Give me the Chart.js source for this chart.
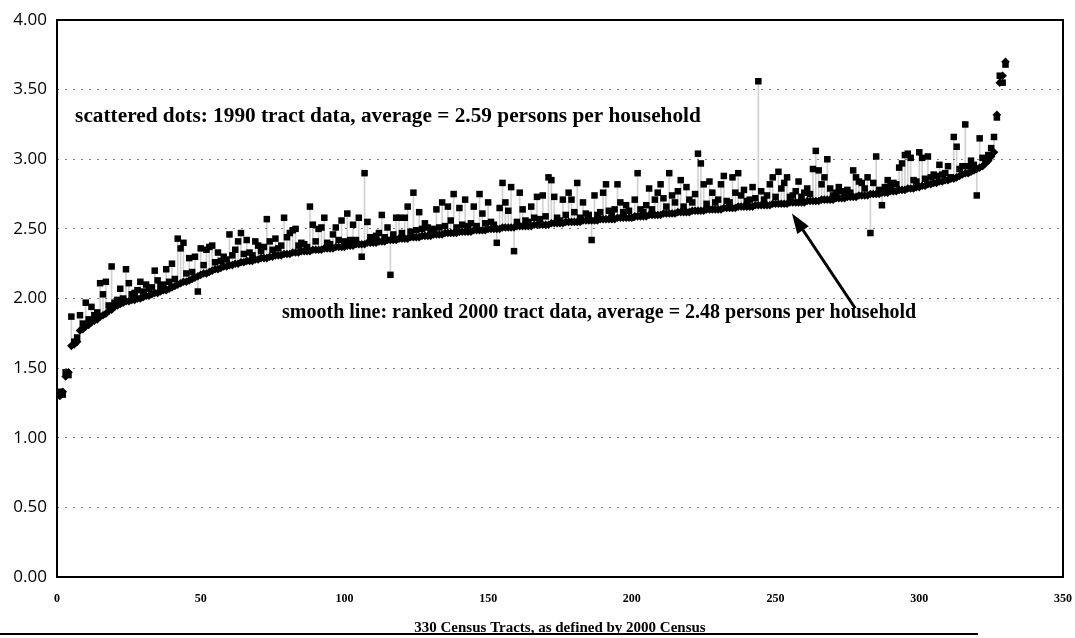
<!DOCTYPE html>
<html>
<head>
<meta charset="utf-8">
<title>Persons per household, 330 census tracts</title>
<script src="https://cdn.jsdelivr.net/npm/chart.js"></script>
<style>
  html, body { margin: 0; padding: 0; background: #fff; }
  #wrap { width: 1075px; height: 638px; position: relative; }
</style>
</head>
<body>
<div id="wrap"><canvas id="chart" width="1075" height="638"></canvas></div>
<script>
// 2000 persons per household, tracts ranked low to high (tract 1..330)
const ranked2000 = [
  1.30, 1.33, 1.44, 1.47, 1.66, 1.67, 1.69, 1.77, 1.78, 1.80,
  1.81, 1.83, 1.84, 1.85, 1.87, 1.88, 1.89, 1.91, 1.92, 1.94,
  1.95, 1.96, 1.97, 1.98, 1.98, 1.99, 1.99, 2.00, 2.00, 2.01,
  2.02, 2.02, 2.03, 2.04, 2.04, 2.05, 2.06, 2.06, 2.07, 2.08,
  2.09, 2.10, 2.11, 2.12, 2.12, 2.13, 2.14, 2.15, 2.16, 2.17,
  2.18, 2.18, 2.19, 2.20, 2.21, 2.21, 2.22, 2.23, 2.23, 2.24,
  2.24, 2.25, 2.25, 2.26, 2.26, 2.27, 2.27, 2.27, 2.28, 2.28,
  2.29, 2.29, 2.29, 2.30, 2.30, 2.31, 2.31, 2.31, 2.32, 2.32,
  2.32, 2.33, 2.33, 2.33, 2.34, 2.34, 2.34, 2.34, 2.35, 2.35,
  2.35, 2.35, 2.36, 2.36, 2.36, 2.36, 2.37, 2.37, 2.37, 2.37,
  2.38, 2.38, 2.38, 2.39, 2.39, 2.39, 2.39, 2.40, 2.40, 2.40,
  2.40, 2.41, 2.41, 2.41, 2.42, 2.42, 2.42, 2.42, 2.43, 2.43,
  2.43, 2.43, 2.44, 2.44, 2.44, 2.44, 2.45, 2.45, 2.45, 2.45,
  2.46, 2.46, 2.46, 2.46, 2.47, 2.47, 2.47, 2.47, 2.47, 2.48,
  2.48, 2.48, 2.48, 2.48, 2.49, 2.49, 2.49, 2.49, 2.49, 2.50,
  2.50, 2.50, 2.50, 2.50, 2.51, 2.51, 2.51, 2.51, 2.51, 2.52,
  2.52, 2.52, 2.52, 2.52, 2.52, 2.53, 2.53, 2.53, 2.53, 2.53,
  2.53, 2.54, 2.54, 2.54, 2.54, 2.54, 2.55, 2.55, 2.55, 2.55,
  2.55, 2.55, 2.56, 2.56, 2.56, 2.56, 2.56, 2.56, 2.57, 2.57,
  2.57, 2.57, 2.57, 2.57, 2.58, 2.58, 2.58, 2.58, 2.58, 2.58,
  2.59, 2.59, 2.59, 2.59, 2.59, 2.60, 2.60, 2.60, 2.60, 2.60,
  2.61, 2.61, 2.61, 2.61, 2.61, 2.62, 2.62, 2.62, 2.62, 2.62,
  2.63, 2.63, 2.63, 2.63, 2.63, 2.64, 2.64, 2.64, 2.64, 2.64,
  2.64, 2.65, 2.65, 2.65, 2.65, 2.65, 2.66, 2.66, 2.66, 2.66,
  2.66, 2.66, 2.67, 2.67, 2.67, 2.67, 2.67, 2.67, 2.68, 2.68,
  2.68, 2.68, 2.68, 2.68, 2.69, 2.69, 2.69, 2.69, 2.69, 2.69,
  2.70, 2.70, 2.70, 2.70, 2.70, 2.71, 2.71, 2.71, 2.71, 2.71,
  2.72, 2.72, 2.72, 2.72, 2.73, 2.73, 2.73, 2.73, 2.74, 2.74,
  2.74, 2.74, 2.75, 2.75, 2.75, 2.75, 2.76, 2.76, 2.76, 2.77,
  2.77, 2.77, 2.78, 2.78, 2.78, 2.79, 2.79, 2.79, 2.80, 2.80,
  2.81, 2.81, 2.82, 2.82, 2.83, 2.83, 2.84, 2.84, 2.85, 2.85,
  2.86, 2.86, 2.87, 2.88, 2.89, 2.90, 2.90, 2.91, 2.92, 2.93,
  2.94, 2.95, 2.97, 2.99, 3.02, 3.05, 3.32, 3.55, 3.60, 3.70
];

// 1990 persons per household for the same tracts (same order)
const tract1990 = [
  1.33, 1.31, 1.47, 1.45, 1.87, 1.69, 1.72, 1.88, 1.82, 1.97,
  1.85, 1.94, 1.88, 1.90, 2.11, 2.03, 2.12, 1.95, 2.23, 1.97,
  1.99, 2.07, 2.00, 2.21, 2.11, 2.03, 2.04, 2.06, 2.12, 2.05,
  2.10, 2.07, 2.08, 2.20, 2.13, 2.09, 2.10, 2.21, 2.12, 2.25,
  2.14, 2.43, 2.36, 2.40, 2.18, 2.29, 2.19, 2.30, 2.05, 2.36,
  2.24, 2.35, 2.37, 2.38, 2.26, 2.33, 2.27, 2.30, 2.28, 2.46,
  2.31, 2.35, 2.41, 2.47, 2.32, 2.42, 2.33, 2.31, 2.41, 2.38,
  2.34, 2.37, 2.57, 2.41, 2.35, 2.43, 2.36, 2.38, 2.58, 2.44,
  2.47, 2.49, 2.50, 2.38, 2.40, 2.39, 2.37, 2.66, 2.53, 2.41,
  2.50, 2.51, 2.58, 2.40, 2.39, 2.46, 2.51, 2.42, 2.56, 2.41,
  2.61, 2.42, 2.53, 2.42, 2.58, 2.30, 2.90, 2.55, 2.44, 2.44,
  2.45, 2.47, 2.60, 2.44, 2.51, 2.17, 2.46, 2.58, 2.58, 2.47,
  2.58, 2.66, 2.48, 2.76, 2.49, 2.62, 2.50, 2.54, 2.51, 2.49,
  2.50, 2.64, 2.51, 2.69, 2.52, 2.66, 2.56, 2.75, 2.51, 2.65,
  2.53, 2.71, 2.52, 2.54, 2.66, 2.52, 2.75, 2.61, 2.54, 2.69,
  2.55, 2.53, 2.40, 2.65, 2.83, 2.69, 2.63, 2.80, 2.34, 2.55,
  2.76, 2.64, 2.56, 2.55, 2.66, 2.58, 2.73, 2.57, 2.74, 2.59,
  2.87, 2.85, 2.73, 2.58, 2.56, 2.71, 2.60, 2.76, 2.71, 2.62,
  2.83, 2.58, 2.69, 2.61, 2.60, 2.42, 2.74, 2.60, 2.62, 2.76,
  2.82, 2.63, 2.61, 2.64, 2.82, 2.69, 2.62, 2.67, 2.63, 2.58,
  2.71, 2.90, 2.64, 2.62, 2.67, 2.79, 2.64, 2.71, 2.76, 2.82,
  2.72, 2.66, 2.90, 2.74, 2.69, 2.77, 2.85, 2.66, 2.80, 2.71,
  2.69, 2.75, 3.04, 2.97, 2.82, 2.68, 2.84, 2.76, 2.69, 2.71,
  2.82, 2.88, 2.70, 2.69, 2.87, 2.76, 2.90, 2.74, 2.78, 2.70,
  2.71, 2.80, 2.72, 3.56, 2.77, 2.71, 2.74, 2.82, 2.87, 2.73,
  2.91, 2.79, 2.83, 2.87, 2.73, 2.74, 2.77, 2.84, 2.73, 2.76,
  2.79, 2.75, 2.93, 3.06, 2.92, 2.82, 2.87, 3.00, 2.79, 2.74,
  2.76, 2.80, 2.77, 2.76, 2.78, 2.76, 2.92, 2.87, 2.84, 2.83,
  2.79, 2.87, 2.47, 2.83, 3.02, 2.78, 2.67, 2.80, 2.85, 2.81,
  2.83, 2.82, 2.94, 2.97, 3.03, 3.04, 3.01, 2.85, 2.84, 3.05,
  3.01, 2.86, 3.02, 2.87, 2.89, 2.88, 2.96, 2.89, 2.90, 2.95,
  2.87, 3.16, 3.09, 2.93, 2.95, 3.25, 2.95, 2.99, 2.96, 2.74,
  3.15, 3.01, 3.00, 3.03, 3.08, 3.16, 3.30, 3.60, 3.55, 3.68
];

// axis ticks and texts
const xTickValues = [0, 50, 100, 150, 200, 250, 300, 350];
const yTickValues = [0, 0.5, 1, 1.5, 2, 2.5, 3, 3.5, 4];
const xTitle = '330 Census Tracts, as defined by 2000 Census';
const note1990 = 'scattered dots: 1990 tract data, average = 2.59 persons per household';
const note2000 = 'smooth line: ranked 2000 tract data, average = 2.48 persons per household';

if (ranked2000.length !== tract1990.length) {
    console.warn('series length mismatch', ranked2000.length, tract1990.length);
}

// x = tract rank (1..330)
const points2000 = ranked2000.map((v, i) => ({ x: i + 1, y: v }));
const points1990 = tract1990.map((v, i) => ({ x: i + 1, y: v }));
// thin connectors between the 1990 dot and the 2000 line
const connectors = tract1990.map((v, i) => ({ x: i + 1, y: [ranked2000[i], v] }));

const serif = '"Liberation Serif", "Times New Roman", serif';

// black frame around the plot + the scan rule at the very bottom
const framePlugin = {
    id: 'frame',
    afterDraw(chart) {
        const { ctx, chartArea: a } = chart;
        ctx.save();
        ctx.strokeStyle = '#000';
        ctx.lineWidth = 2;
        ctx.strokeRect(a.left, a.top, a.right - a.left, a.bottom - a.top);
        ctx.fillStyle = '#000';
        ctx.fillRect(0, 633, 978, 2);
        ctx.restore();
    }
};

// the two text notes and the arrow
const notesPlugin = {
    id: 'notes',
    afterDatasetsDraw(chart) {
        const { ctx, scales: { x, y } } = chart;
        ctx.save();
        ctx.fillStyle = '#000';
        ctx.textAlign = 'left';
        ctx.textBaseline = 'middle';
        ctx.font = 'bold 21.3px ' + serif;
        ctx.fillText(note1990, x.getPixelForValue(6.3), y.getPixelForValue(3.31));
        ctx.font = 'bold 20px ' + serif;
        ctx.fillText(note2000, x.getPixelForValue(78.3), y.getPixelForValue(1.90));

        // arrow pointing at the ranked line
        const x0 = x.getPixelForValue(277.7), y0 = y.getPixelForValue(1.93);
        const x1 = x.getPixelForValue(255.7), y1 = y.getPixelForValue(2.61);
        const ang = Math.atan2(y1 - y0, x1 - x0);
        const len = 20, half = 7;
        ctx.strokeStyle = '#000';
        ctx.lineWidth = 3;
        ctx.beginPath();
        ctx.moveTo(x0, y0);
        ctx.lineTo(x1 - Math.cos(ang) * (len - 2), y1 - Math.sin(ang) * (len - 2));
        ctx.stroke();
        ctx.beginPath();
        ctx.moveTo(x1, y1);
        ctx.lineTo(x1 - Math.cos(ang) * len - Math.sin(ang) * half, y1 - Math.sin(ang) * len + Math.cos(ang) * half);
        ctx.lineTo(x1 - Math.cos(ang) * len + Math.sin(ang) * half, y1 - Math.sin(ang) * len - Math.cos(ang) * half);
        ctx.closePath();
        ctx.fill();
        ctx.restore();
    }
};

// keep the plot box where the original has it: no extra room for edge labels
function noEdgePadding(axis) {
    axis.paddingLeft = 0;
    axis.paddingRight = 0;
    axis.paddingTop = 0;
    axis.paddingBottom = 0;
}

const ctx = document.getElementById('chart').getContext('2d');
new Chart(ctx, {
    type: 'scatter',
    data: {
        datasets: [{
            label: 'Ranked 2000 tract data',
            data: points2000,
            pointStyle: 'rectRot',
            pointRadius: 4.3,
            pointBorderWidth: 0,
            backgroundColor: '#000',
            borderColor: '#000',
            order: 1
        }, {
            label: '1990 tract data',
            data: points1990,
            pointStyle: 'rect',
            pointRadius: 4.6,
            pointBorderWidth: 0,
            backgroundColor: '#000',
            borderColor: '#000',
            order: 2
        }, {
            type: 'bar',
            label: 'change',
            data: connectors,
            backgroundColor: 'rgba(0,0,0,0.18)',
            borderWidth: 0,
            barThickness: 1,
            order: 3
        }]
    },
    options: {
        responsive: false,
        animation: false,
        devicePixelRatio: 1,
        layout: { padding: { top: 20, right: 12, left: 0, bottom: 0 } },
        plugins: {
            legend: { display: false },
            tooltip: { enabled: false }
        },
        scales: {
            x: {
                type: 'linear',
                min: 0,
                max: 350,
                offset: false,
                grid: { display: false, offset: false, drawTicks: false },
                border: { display: false },
                afterBuildTicks: axis => { axis.ticks = xTickValues.map(v => ({ value: v })); },
                afterFit: axis => { axis.height = 61; noEdgePadding(axis); },
                ticks: {
                    padding: 15,
                    maxRotation: 0,
                    autoSkip: false,
                    color: '#000',
                    font: { family: serif, size: 12, weight: 'bold' },
                    callback: v => String(v)
                },
                title: {
                    display: true,
                    text: xTitle,
                    color: '#000',
                    font: { family: serif, size: 15, weight: 'bold' },
                    padding: { top: 0, bottom: 1 }
                }
            },
            y: {
                type: 'linear',
                min: 0,
                max: 4,
                grid: {
                    drawTicks: false,
                    lineWidth: 1,
                    color: c => (c.tick.value > 0 && c.tick.value < 4) ? 'rgba(0,0,0,0.5)' : 'rgba(0,0,0,0)'
                },
                border: { display: false, dash: [2, 6] },
                afterBuildTicks: axis => { axis.ticks = yTickValues.map(v => ({ value: v })); },
                afterFit: axis => { axis.width = 57; noEdgePadding(axis); },
                ticks: {
                    padding: 10,
                    color: '#000',
                    font: { family: '"Open Sans", sans-serif', size: 17 },
                    callback: v => Number(v).toFixed(2)
                }
            }
        }
    },
    plugins: [notesPlugin, framePlugin]
});
</script>
</body>
</html>
